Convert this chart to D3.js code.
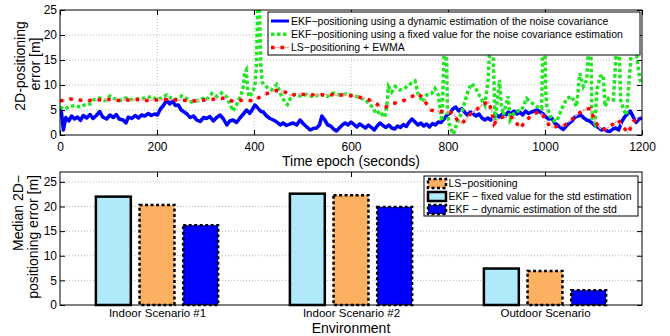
<!DOCTYPE html>
<html>
<head>
<meta charset="utf-8">
<script src="https://cdn.jsdelivr.net/npm/d3@7"></script>
<style>
  body { margin: 0; background: #fff; }
  svg { display: block; font-family: "Liberation Sans", Arial, sans-serif; }
</style>
</head>
<body>
<div id="chart"></div>
<script>
// ---- top panel data: time epoch (s) vs 2D positioning error (m) ----
const epochTicks = [0, 200, 400, 600, 800, 1000, 1200];
const errorTicks = [0, 5, 10, 15, 20, 25];

// EKF, dynamic estimation of the noise covariance
const ekfDynamic = [
  [0,5.2],[3,4.5],[7,1.0],[12,3.5],[18,2.8],[24,3.8],[30,3.2],[36,3.6],[42,2.9],[48,3.9],
  [55,3.4],[62,4.1],[68,3.3],[75,3.9],[82,4.7],[88,3.6],[96,3.2],[103,4.0],[110,3.5],[116,4.1],
  [122,3.2],[130,3.0],[136,2.4],[141,3.6],[148,3.3],[155,3.9],[162,3.4],[168,4.0],[175,3.8],[182,4.3],
  [188,3.9],[195,4.2],[201,4.0],[207,5.2],[214,6.0],[220,7.0],[226,6.2],[232,6.8],[238,5.9],[244,6.0],
  [250,5.0],[256,4.6],[262,4.2],[268,3.5],[275,3.8],[282,3.0],[289,2.7],[296,3.5],[302,3.3],[309,3.7],
  [316,2.8],[323,3.5],[330,4.0],[337,3.2],[344,2.0],[350,2.8],[357,3.0],[364,2.5],[371,3.4],[378,4.2],
  [385,5.0],[391,4.3],[396,5.0],[402,6.0],[407,5.5],[413,4.8],[419,4.6],[426,3.8],[433,3.3],[440,3.0],
  [447,2.6],[454,2.0],[460,2.4],[467,1.9],[474,2.2],[481,2.4],[488,2.0],[495,3.0],[502,2.2],[509,1.6],
  [516,1.0],[522,1.3],[529,1.4],[535,2.0],[540,3.8],[546,3.0],[552,2.0],[558,1.8],[564,1.2],[570,0.8],
  [576,1.4],[582,2.0],[588,2.4],[594,2.0],[600,2.6],[606,2.1],[612,1.6],[618,2.2],[624,1.8],[630,1.4],
  [636,2.0],[642,1.5],[648,1.0],[654,1.8],[660,2.4],[666,1.9],[672,1.5],[678,2.0],[684,1.4],[690,1.2],
  [696,1.8],[702,1.5],[708,2.1],[714,1.7],[720,2.6],[726,3.2],[732,2.6],[738,2.0],[744,2.4],[750,1.8],
  [756,2.2],[762,1.6],[768,2.3],[774,2.0],[780,2.6],[786,2.5],[792,3.2],[798,4.0],[804,4.4],[810,5.2],
  [816,5.6],[822,4.8],[828,5.3],[834,4.6],[840,4.0],[846,4.6],[852,4.2],[858,3.8],[864,4.2],[870,3.4],
  [876,3.0],[882,3.4],[888,3.0],[894,3.6],[900,4.0],[906,3.6],[912,4.2],[918,3.8],[924,4.6],[930,4.2],
  [936,4.8],[942,4.2],[948,4.6],[954,4.0],[960,4.8],[966,4.3],[972,4.6],[978,4.8],[984,5.0],[990,4.6],
  [996,4.2],[1002,3.6],[1008,3.2],[1014,3.4],[1020,2.4],[1026,2.0],[1032,1.5],[1038,1.1],[1044,1.8],[1050,2.4],
  [1056,2.8],[1062,3.6],[1068,3.8],[1074,4.0],[1080,3.4],[1086,3.0],[1092,2.8],[1098,2.3],[1104,1.8],[1110,1.5],
  [1116,1.0],[1122,1.2],[1128,0.8],[1134,0.7],[1140,1.2],[1146,1.4],[1152,1.0],[1158,2.6],[1164,3.6],[1170,4.2],
  [1176,4.8],[1182,3.6],[1188,2.5],[1194,3.2],[1200,3.4]
];

// EKF, fixed value for the noise covariance estimation
const ekfFixed = [
  [0,5.6],[10,5.2],[20,5.7],[31,5.9],[41,5.6],[51,6.0],[62,6.2],[69,7.0],[82,7.4],[93,6.9],
  [103,7.8],[113,7.2],[124,6.9],[134,7.4],[148,7.1],[161,7.2],[175,7.4],[189,7.7],[199,7.1],[210,7.4],
  [220,8.0],[230,7.3],[240,7.1],[251,7.8],[261,7.3],[271,6.6],[285,6.9],[295,7.3],[302,7.0],[313,8.3],
  [323,7.7],[333,8.4],[344,7.6],[350,6.2],[357,4.8],[364,6.0],[371,7.6],[377,9.0],[381,12.5],[384,13.0],
  [387,9.0],[390,7.6],[396,8.4],[402,9.8],[405,14],[408,27],[411,27],[414,14],[417,10.5],[426,9.6],
  [436,9.0],[447,10.1],[457,7.8],[464,6.6],[469,6.1],[475,7.3],[484,8.1],[495,7.8],[509,8.1],[522,7.6],
  [536,8.2],[550,7.7],[563,8.4],[577,8.0],[591,8.2],[608,7.8],[629,7.1],[642,5.8],[653,4.2],[660,4.8],
  [665,4.0],[670,3.6],[674,5.8],[677,9.7],[684,8.6],[691,9.7],[701,9.0],[711,9.4],[725,10.4],[732,10.8],
  [739,8.0],[749,6.6],[756,8.0],[766,8.3],[773,9.3],[780,8.0],[787,2.8],[790,10],[793,20],[796,20],
  [799,4.0],[803,2.2],[807,1.0],[811,0.2],[818,2.2],[825,3.7],[832,5.7],[842,9.0],[849,10.3],[859,9.0],
  [866,7.7],[876,6.0],[883,11.3],[887,20],[892,20],[897,3.0],[903,8],[906,11],[910,6],[914,4.0],
  [924,7.7],[928,3.0],[938,4.7],[952,5.0],[962,7.3],[969,6.7],[983,5.7],[993,5.3],[996,20],[999,20],
  [1002,8],[1004,5.7],[1014,3.0],[1024,2.7],[1035,5.3],[1045,7.3],[1055,7.7],[1065,5.7],[1072,12.3],[1079,9.7],
  [1086,11.0],[1091,20],[1094,20],[1097,3.3],[1103,2.3],[1107,9.0],[1114,11.7],[1120,12.0],[1124,5.7],[1131,7.3],
  [1141,7.0],[1149,20],[1152,20],[1156,7.0],[1162,5.0],[1168,4.0],[1175,13.0],[1181,20],[1186,20],[1190,15.0],
  [1196,11.0],[1200,10]
];

// LS positioning + EWMA
const lsEwma = [
  [0,6.8],[20,7.2],[40,7.0],[60,6.9],[80,7.0],[100,7.1],[120,6.9],[140,7.0],[160,7.1],[180,6.9],
  [200,7.0],[220,7.1],[240,7.0],[260,6.9],[280,6.8],[300,7.0],[320,7.2],[340,7.4],[355,6.8],[370,6.9],
  [385,7.0],[400,6.8],[415,7.8],[430,8.4],[445,8.9],[460,8.8],[475,7.9],[490,8.2],[510,8.1],[530,8.0],
  [550,8.1],[570,8.0],[590,8.0],[610,7.7],[630,7.3],[646,6.7],[660,5.7],[672,5.6],[687,6.3],[704,6.7],
  [722,7.5],[737,8.3],[749,7.4],[757,6.0],[765,5.0],[775,4.7],[790,4.7],[802,4.6],[812,4.3],[819,3.0],
  [828,2.3],[839,3.3],[846,4.2],[859,5.1],[873,6.2],[884,6.7],[890,4.7],[895,2.2],[904,3.3],[918,3.7],
  [935,3.5],[948,1.3],[962,3.0],[976,4.2],[990,4.7],[997,3.7],[1004,2.7],[1011,1.5],[1024,1.7],[1041,2.0],
  [1055,3.1],[1069,4.3],[1082,5.1],[1093,5.3],[1103,2.7],[1114,1.3],[1124,1.1],[1134,1.7],[1151,3.0],[1162,1.5],
  [1172,0.4],[1182,2.7],[1196,3.5],[1200,3.6]
];

// ---- bottom panel data: median error per environment ----
const scenarios = ["Indoor Scenario #1", "Indoor Scenario #2", "Outdoor Scenario"];
const medianEkfFixed = [22.0, 22.6, 7.4];
const medianLs = [20.3, 22.3, 6.9];
const medianEkfDynamic = [16.2, 19.9, 3.0];
const medianTicks = [0, 5, 10, 15, 20, 25];

// ---- svg ----
const width = 670, height = 336;
const font = "Liberation Sans, Arial, sans-serif";
const svg = d3.select("#chart").append("svg")
  .attr("width", width).attr("height", height);

const cyan = "#b0e9f9", orange = "#fbb062", blue = "#0000ff", green = "#22e622";

// ================= top panel =================
const p1 = { l: 60, r: 642, t: 10, b: 135 };
const x1 = d3.scaleLinear().domain([0, 1200]).range([p1.l, p1.r]);
const y1 = d3.scaleLinear().domain([0, 25]).range([p1.b, p1.t]);

svg.append("defs").append("clipPath").attr("id", "clip1")
  .append("rect").attr("x", p1.l).attr("y", p1.t)
  .attr("width", p1.r - p1.l).attr("height", p1.b - p1.t);

const g1 = svg.append("g");

// dotted grid
g1.append("g").selectAll("line").data(epochTicks.slice(1, -1)).join("line")
  .attr("x1", d => x1(d)).attr("x2", d => x1(d))
  .attr("y1", p1.t).attr("y2", p1.b)
  .attr("stroke", "#b8b8b8").attr("stroke-dasharray", "1,2");
g1.append("g").selectAll("line").data(errorTicks.slice(1, -1)).join("line")
  .attr("y1", d => y1(d)).attr("y2", d => y1(d))
  .attr("x1", p1.l).attr("x2", p1.r)
  .attr("stroke", "#b8b8b8").attr("stroke-dasharray", "1,2");

// axes (ticks inward on all sides)
const styleAxis = g => g.attr("font-size", 12).attr("font-family", font)
  .call(s => s.select(".domain").remove())
  .call(s => s.selectAll("text").attr("fill", "#000"));

g1.append("g").attr("transform", `translate(0,${p1.b})`)
  .call(d3.axisBottom(x1).tickValues(epochTicks).tickSize(-5).tickPadding(7)
    .tickFormat(d3.format("d")))
  .call(styleAxis);
g1.append("g").attr("transform", `translate(0,${p1.t})`)
  .call(d3.axisTop(x1).tickValues(epochTicks).tickSize(-5).tickFormat(""))
  .call(styleAxis);
g1.append("g").attr("transform", `translate(${p1.l},0)`)
  .call(d3.axisLeft(y1).tickValues(errorTicks).tickSize(-5).tickPadding(3))
  .call(styleAxis);
g1.append("g").attr("transform", `translate(${p1.r},0)`)
  .call(d3.axisRight(y1).tickValues(errorTicks).tickSize(-5).tickFormat(""))
  .call(styleAxis);

// lines
const line1 = d3.line().x(d => x1(d[0])).y(d => y1(d[1]));
const lines = g1.append("g").attr("clip-path", "url(#clip1)");

lines.append("path").datum(ekfDynamic).attr("d", line1)
  .attr("fill", "none").attr("stroke", blue).attr("stroke-width", 3.5)
  .attr("stroke-linejoin", "round");
lines.append("path").datum(ekfFixed).attr("d", line1)
  .attr("fill", "none").attr("stroke", green).attr("stroke-width", 3.5)
  .attr("stroke-dasharray", "3.5,2.5");
lines.append("path").datum(lsEwma).attr("d", line1)
  .attr("fill", "none").attr("stroke", "#f7a8a8").attr("stroke-width", 1.5)
  .attr("stroke-dasharray", "5,4");
lines.append("path").datum(lsEwma).attr("d", line1)
  .attr("fill", "none").attr("stroke", "#ff0000").attr("stroke-width", 3.5)
  .attr("stroke-dasharray", "3.5,6");

g1.append("rect").attr("x", p1.l).attr("y", p1.t)
  .attr("width", p1.r - p1.l).attr("height", p1.b - p1.t)
  .attr("fill", "none").attr("stroke", "#000");

// legend
const leg1 = g1.append("g");
leg1.append("rect").attr("x", 268).attr("y", 12).attr("width", 372).attr("height", 43)
  .attr("fill", "#fff").attr("stroke", "#000");
const leg1Items = [
  { label: "EKF−positioning using a dynamic estimation of the noise covariance", type: "blue" },
  { label: "EKF−positioning using a fixed value for the noise covariance estimation", type: "green" },
  { label: "LS−positioning + EWMA", type: "red" }
];
leg1Items.forEach((d, i) => {
  const yy = 21 + i * 13.3;
  if (d.type === "blue") {
    leg1.append("line").attr("x1", 271).attr("x2", 289).attr("y1", yy).attr("y2", yy)
      .attr("stroke", blue).attr("stroke-width", 3);
  } else if (d.type === "green") {
    leg1.append("line").attr("x1", 271).attr("x2", 289).attr("y1", yy).attr("y2", yy)
      .attr("stroke", green).attr("stroke-width", 3.5).attr("stroke-dasharray", "3.5,2.5");
  } else {
    leg1.append("line").attr("x1", 271).attr("x2", 289).attr("y1", yy).attr("y2", yy)
      .attr("stroke", "#f7a8a8").attr("stroke-width", 1.5);
    leg1.append("line").attr("x1", 271).attr("x2", 289).attr("y1", yy).attr("y2", yy)
      .attr("stroke", "#ff0000").attr("stroke-width", 3.5).attr("stroke-dasharray", "3.5,6");
  }
  leg1.append("text").attr("x", 291).attr("y", yy).attr("dy", "0.35em")
    .attr("font-size", 10.5).text(d.label);
});

// axis titles
g1.append("text").attr("x", 351).attr("y", 165.5).attr("text-anchor", "middle")
  .attr("font-size", 14).text("Time epoch (seconds)");
g1.append("text").attr("transform", "translate(25,66) rotate(-90)")
  .attr("text-anchor", "middle").attr("font-size", 14).text("2D-positioning");
g1.append("text").attr("transform", "translate(40,64) rotate(-90)")
  .attr("text-anchor", "middle").attr("font-size", 14).text("error [m]");

// ================= bottom panel =================
const p2 = { l: 60, r: 642, t: 172, b: 305 };
const x2 = d3.scaleLinear().domain([0.5, 3.5]).range([p2.l, p2.r]);
const y2 = d3.scaleLinear().domain([0, 27]).range([p2.b, p2.t]);
const g2 = svg.append("g");

g2.append("g").selectAll("line").data(medianTicks.slice(1)).join("line")
  .attr("y1", d => y2(d)).attr("y2", d => y2(d))
  .attr("x1", p2.l).attr("x2", p2.r)
  .attr("stroke", "#b8b8b8").attr("stroke-dasharray", "1,2");

const catPos = scenarios.map((d, i) => i + 1);
const styleAxis2 = g => g.attr("font-size", 11.5).attr("font-family", font)
  .call(s => s.select(".domain").remove())
  .call(s => s.selectAll("text").attr("fill", "#000"));

g2.append("g").attr("transform", `translate(0,${p2.b})`)
  .call(d3.axisBottom(x2).tickValues(catPos).tickSize(-5).tickPadding(4)
    .tickFormat((d, i) => scenarios[i]))
  .call(styleAxis2);
g2.append("g").attr("transform", `translate(0,${p2.t})`)
  .call(d3.axisTop(x2).tickValues(catPos).tickSize(-5).tickFormat(""))
  .call(styleAxis2);
g2.append("g").attr("transform", `translate(${p2.l},0)`)
  .call(d3.axisLeft(y2).tickValues(medianTicks).tickSize(-5).tickPadding(3))
  .call(styleAxis2).attr("font-size", 12);
g2.append("g").attr("transform", `translate(${p2.r},0)`)
  .call(d3.axisRight(y2).tickValues(medianTicks).tickSize(-5).tickFormat(""))
  .call(styleAxis2);

// bars
const barW = 0.18;
const barSeries = [
  { vals: medianEkfFixed, fill: cyan, dash: null, off: -0.225 },
  { vals: medianLs, fill: orange, dash: "3,2.5", off: 0 },
  { vals: medianEkfDynamic, fill: blue, dash: "3,2.5", off: 0.225 }
];
barSeries.forEach(s => {
  g2.append("g").selectAll("rect").data(s.vals).join("rect")
    .attr("x", (d, i) => x2(i + 1 + s.off - barW / 2))
    .attr("width", x2(barW) - x2(0))
    .attr("y", d => y2(d))
    .attr("height", d => y2(0) - y2(d))
    .attr("fill", s.fill).attr("stroke", "#000").attr("stroke-width", 2.5)
    .attr("stroke-dasharray", s.dash);
});

g2.append("rect").attr("x", p2.l).attr("y", p2.t)
  .attr("width", p2.r - p2.l).attr("height", p2.b - p2.t)
  .attr("fill", "none").attr("stroke", "#000");

// legend
const leg2 = g2.append("g");
leg2.append("rect").attr("x", 424).attr("y", 176).attr("width", 214).attr("height", 40)
  .attr("fill", "#fff").attr("stroke", "#000");
const leg2Items = [
  { label: "LS−positioning", fill: orange, dash: "3,2.5" },
  { label: "EKF − fixed value for the std estimation", fill: cyan, dash: null },
  { label: "EKF − dynamic estimation of the std", fill: blue, dash: "3,2.5" }
];
leg2Items.forEach((d, i) => {
  const yy = 183.5 + i * 13;
  leg2.append("rect").attr("x", 428).attr("y", yy - 4.5).attr("width", 18).attr("height", 9)
    .attr("fill", d.fill).attr("stroke", "#000").attr("stroke-width", 2.5)
    .attr("stroke-dasharray", d.dash);
  leg2.append("text").attr("x", 448.5).attr("y", yy).attr("dy", "0.35em")
    .attr("font-size", 10.5).text(d.label);
});

g2.append("text").attr("x", 351).attr("y", 332.5).attr("text-anchor", "middle")
  .attr("font-size", 14).text("Environment");
g2.append("text").attr("transform", "translate(23,175) rotate(-90)")
  .attr("text-anchor", "end").attr("font-size", 14).text("Median 2D−");
g2.append("text").attr("transform", "translate(38,175) rotate(-90)")
  .attr("text-anchor", "end").attr("font-size", 14).text("positioning error [m]");
</script>
</body>
</html>
